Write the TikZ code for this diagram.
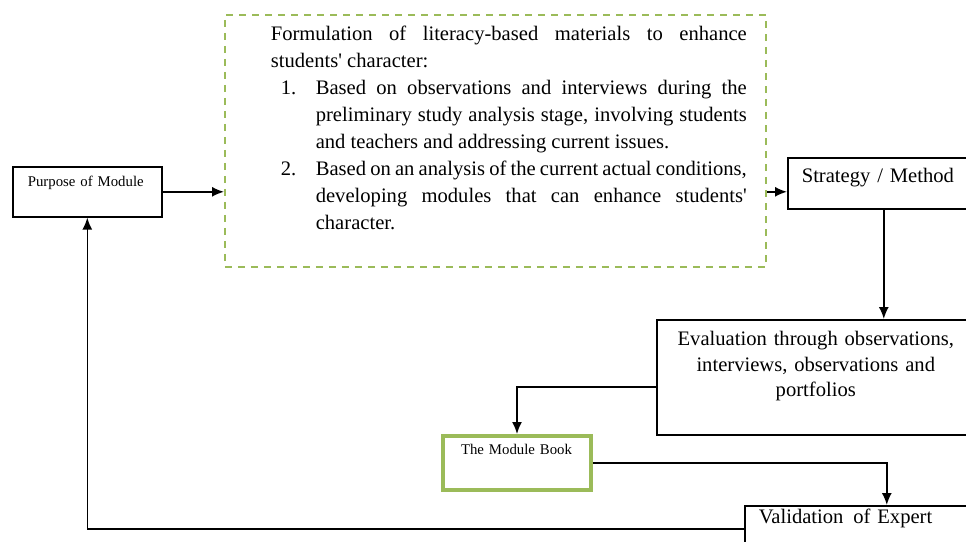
\documentclass[tikz,border=0pt]{standalone}
\usepackage{fontspec}
\setmainfont{Liberation Serif}
\usetikzlibrary{arrows.meta}
\begin{document}
\begin{tikzpicture}[>={Latex[length=6pt,width=5pt]},line width=0.8pt,
  box/.style={draw,anchor=north west,inner ysep=0pt,align=left,
    font=\fontsize{10.3}{13}\selectfont},
  dashbox/.style={draw=olivegreen,dash pattern=on 3.5pt off 3pt,line width=0.9pt,
    anchor=north west,inner sep=0pt}]
\definecolor{olivegreen}{HTML}{9BBB59}
\def\h{0.5pt}
\def\punkt#1#2{({(#1)*\h},{-(#2)*\h})}
\def\nummer#1{\par\noindent\hangindent=22.5pt\hangafter=1\makebox[22.5pt][l]{\hspace{5pt}#1}}
\useasboundingbox \punkt{0}{0} rectangle \punkt{966}{542};

\node (purpose) at \punkt{12}{166} [box,inner xsep=7.5pt,text width=59.5pt,
  text height=10pt,text depth=15pt,font=\fontsize{7.4}{9}\selectfont]
  {Purpose of Module};

\node (formbox) at \punkt{224}{14} [dashbox,minimum width=270.5pt,minimum height=126pt] {};
\node (formtext) at \punkt{270}{40} [anchor=base west,inner sep=0pt,text width=238pt,
  align=justify,font=\fontsize{10.3}{13.55}\selectfont]
  {Formulation of literacy-based materials to enhance\linebreak
   students\textquotesingle\ character:
   \nummer{1.}Based on observations and interviews during the\linebreak
   preliminary study analysis stage, involving students\linebreak
   and teachers and addressing current issues.
   \nummer{2.}Based on an analysis of the current actual conditions,\linebreak
   developing modules that can enhance students\textquotesingle\linebreak
   character.\par};

\node (strategy) at \punkt{787}{157} [box,inner xsep=7pt,text width=82pt,
  text height=12.5pt,text depth=13pt] {Strategy / Method};

\node (eval) at \punkt{656}{319} [box,inner xsep=4pt,text width=151pt,align=center,
  text height=13pt,text depth=44.5pt,font=\fontsize{10.3}{12.75}\selectfont]
  {Evaluation through observations,\\ interviews, observations and\\ portfolios};

\node (book) at \punkt{441}{434} [box,draw=olivegreen,line width=2pt,inner xsep=9pt,
  text width=56pt,text height=9pt,text depth=18pt,font=\fontsize{7.4}{9}\selectfont]
  {The Module Book};

\node (valid) at \punkt{744}{505} [box,inner xsep=7pt,text width=128pt,
  text height=9pt,text depth=14pt] {Validation\hspace{1.5pt} of Expert};

% connectors
\draw[->] (purpose.east) -- (purpose.east -| formbox.west);
\draw[->] (formbox.east |- purpose.east) -- (strategy.west |- purpose.east);
\draw[->] (strategy.south) -- (strategy.south |- eval.north);
\draw[->] ([yshift=-4.75pt]eval.west) -| (book.north);
\draw[->] (book.east) -| (valid.north);
\draw[->] (valid.west) -| (purpose.south);

\end{tikzpicture}
\end{document}
